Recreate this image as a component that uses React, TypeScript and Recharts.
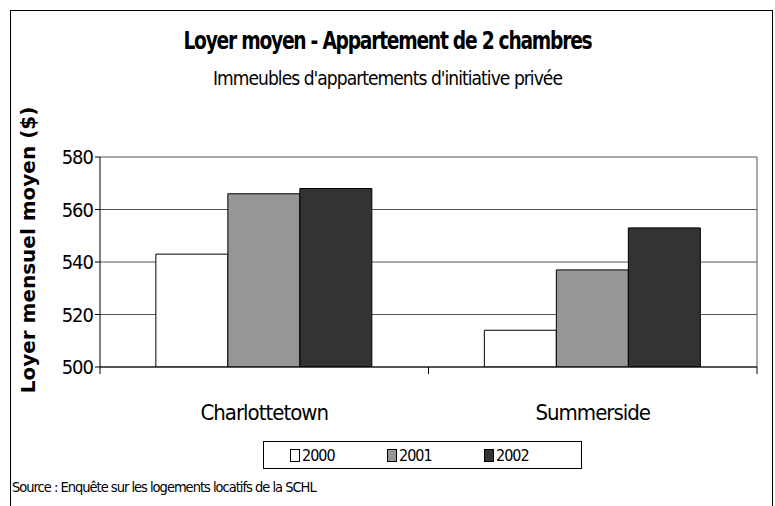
import React from 'react'
import {
  BarChart,
  Bar,
  XAxis,
  YAxis,
  CartesianGrid,
} from 'recharts'

const cities = ['Charlottetown', 'Summerside']
const rent2000 = [543, 514]
const rent2001 = [566, 537]
const rent2002 = [568, 553]
const yTicks = [500, 520, 540, 560, 580]

const years = [
  { key: 'y2000', label: '2000', color: '#FFFFFF' },
  { key: 'y2001', label: '2001', color: '#969696' },
  { key: 'y2002', label: '2002', color: '#333333' },
]

const data = cities.map((city, i) => ({
  city,
  y2000: rent2000[i],
  y2001: rent2001[i],
  y2002: rent2002[i],
}))

const FONT = "'DejaVu Sans Condensed', 'Liberation Sans', sans-serif"

// category labels centred, tick marks on the band edges like the original
const CityTick = (props: any) => {
  const { x, y, payload, index, visibleTicksCount } = props
  const half = payload?.offset ?? 164
  return (
    <g>
      <line x1={x - half} y1={y - 8} x2={x - half} y2={y - 1} stroke="#000" />
      {index === visibleTicksCount - 1 && (
        <line x1={x + half} y1={y - 8} x2={x + half} y2={y - 1} stroke="#000" />
      )}
      <text
        x={x}
        y={y + 45}
        textAnchor="middle"
        fontSize={22}
        fontFamily={FONT}
        letterSpacing={-1}
        fill="#000"
      >
        {payload.value}
      </text>
    </g>
  )
}

const LegendBox = () => (
  <div
    style={{
      position: 'absolute',
      left: 263,
      top: 441,
      width: 319,
      height: 28,
      border: '1px solid #000',
      display: 'flex',
      alignItems: 'center',
      paddingLeft: 26,
      boxSizing: 'border-box',
      fontFamily: FONT,
      fontSize: 16,
      letterSpacing: -1,
      background: '#fff',
    }}
  >
    {years.map((y) => (
      <span key={y.key} style={{ display: 'flex', alignItems: 'center', gap: 2, width: 98 }}>
        <span
          style={{
            display: 'inline-block',
            width: 8,
            height: 11,
            background: y.color,
            border: '1px solid #000',
          }}
        />
        {y.label}
      </span>
    ))}
  </div>
)

export default function App() {
  return (
    <div
      style={{
        position: 'absolute',
        left: 0,
        top: 0,
        width: 775,
        height: 506,
        background: '#fff',
        overflow: 'hidden',
      }}
    >
      <div
        style={{
          position: 'absolute',
          left: 10,
          top: 10,
          width: 761,
          height: 520,
          border: '1px solid #000',
        }}
      />
      <div
        style={{
          position: 'absolute',
          left: 0,
          top: 26,
          width: 775,
          textAlign: 'center',
          fontFamily: FONT,
          fontWeight: 'bold',
          fontSize: 25,
          letterSpacing: -1.5,
          transform: 'scaleX(0.83)',
          transformOrigin: '387px 0',
        }}
      >
        Loyer moyen - Appartement de 2 chambres
      </div>
      <div
        style={{
          position: 'absolute',
          left: 0,
          top: 67,
          width: 775,
          textAlign: 'center',
          fontFamily: FONT,
          fontSize: 19,
          letterSpacing: -0.95,
        }}
      >
        Immeubles d'appartements d'initiative privée
      </div>
      <div
        style={{
          position: 'absolute',
          left: 28,
          top: 250,
          transform: 'translate(-50%, -50%) rotate(-90deg)',
          whiteSpace: 'nowrap',
          fontFamily: "'DejaVu Sans', Verdana, sans-serif",
          fontWeight: 'bold',
          fontSize: 20,
        }}
      >
        Loyer mensuel moyen ($)
      </div>

      <BarChart
        width={775}
        height={506}
        data={data}
        margin={{ top: 157, right: 18, bottom: 109, left: 40 }}
        barGap={0}
        barCategoryGap="17%"
        style={{ position: 'absolute', left: 0, top: 0 }}
      >
        <CartesianGrid
          stroke="#555"
          verticalCoordinatesGenerator={({ offset }: any) => [offset.left + offset.width]}
        />
        <XAxis
          dataKey="city"
          height={30}
          axisLine={{ stroke: '#000' }}
          tickLine={false}
          tick={<CityTick />}
          interval={0}
        />
        <YAxis
          domain={[500, 580]}
          ticks={yTicks}
          width={60}
          axisLine={{ stroke: '#000' }}
          tickLine={{ stroke: '#000' }}
          tickSize={5}
          tick={{ fontSize: 20, fontFamily: FONT, fill: '#000', letterSpacing: -1 }}
          allowDataOverflow
        />
        {years.map((y) => (
          <Bar
            key={y.key}
            dataKey={y.key}
            name={y.label}
            fill={y.color}
            stroke="#000"
            strokeWidth={1}
            isAnimationActive={false}
          />
        ))}
      </BarChart>

      <LegendBox />

      <div
        style={{
          position: 'absolute',
          left: 12,
          top: 479,
          fontFamily: FONT,
          fontSize: 14.5,
          letterSpacing: -1,
        }}
      >
        Source : Enquête sur les logements locatifs de la SCHL
      </div>
    </div>
  )
}
